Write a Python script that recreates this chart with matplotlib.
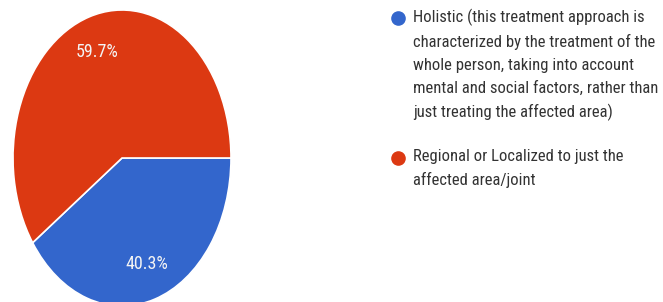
import matplotlib
matplotlib.use("Agg")
import matplotlib.pyplot as plt
from matplotlib.lines import Line2D

# data
labels = [
    "Holistic (this treatment approach is\ncharacterized by the treatment of the\n"
    "whole person, taking into account\nmental and social factors, rather than\n"
    "just treating the affected area)",
    "Regional or Localized to just the\naffected area/joint",
]
shares = [40.3, 59.7]
colors = ["#3366CC", "#DC3912"]

plt.rcParams["font.family"] = ["Roboto Condensed", "DejaVu Sans"]

W, H = 663, 302
fig = plt.figure(figsize=(W / 100, H / 100), dpi=100)

# pie is stretched vertically and cut off at the bottom
ax = fig.add_axes([13 / W, -4 / H, 218 / W, 296 / H])
wedges, texts, autotexts = ax.pie(
    shares, colors=colors, startangle=0, counterclock=False,
    autopct="%.1f%%", pctdistance=0.75,
    wedgeprops=dict(edgecolor="white", linewidth=1.2),
    textprops=dict(color="#f4f4f4", fontsize=13),
)
ax.set_aspect("auto")
ax.set_xlim(-1, 1)
ax.set_ylim(-1, 1)
ax.axis("off")

# legend drawn by hand: marker lines up with first text line
entry_tops = [9, 149]
for lab, col, top in zip(labels, colors, entry_tops):
    fig.add_artist(Line2D([398 / W], [1 - (top + 9) / H], marker="o",
                          markersize=9.5, color=col, linestyle="none"))
    fig.text(413 / W, 1 - top / H, lab, ha="left", va="top",
             fontsize=12, color="#333333", linespacing=1.62)

fig.savefig("out.png", dpi=100)
